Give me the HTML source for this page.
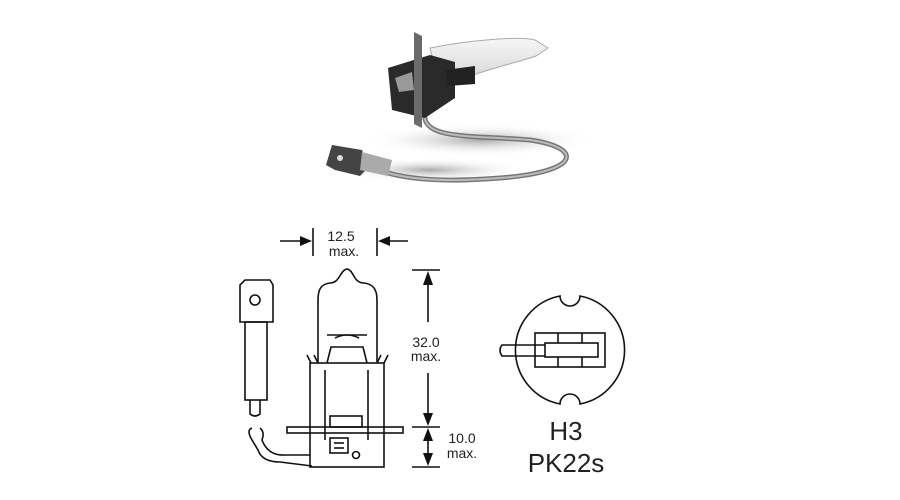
<!DOCTYPE html>
<html><head><style>
html,body{margin:0;padding:0;background:#fff;}
svg{display:block}
text{font-family:"Liberation Sans",sans-serif;fill:#222}
</style></head><body>
<svg width="900" height="500" viewBox="0 0 900 500">
<defs>
<radialGradient id="sh" cx="0.5" cy="0.5" r="0.5"><stop offset="0" stop-color="#aaa"/><stop offset="1" stop-color="#fff" stop-opacity="0"/></radialGradient>
<linearGradient id="gl" x1="0" y1="0" x2="0" y2="1"><stop offset="0" stop-color="#f6f6f6"/><stop offset="0.6" stop-color="#e0e0e0"/><stop offset="1" stop-color="#b8b8b8"/></linearGradient>
</defs>
<!-- photo -->
<ellipse cx="480" cy="140" rx="115" ry="16" fill="url(#sh)"/>
<ellipse cx="430" cy="170" rx="95" ry="12" fill="url(#sh)"/>
<path d="M425 112 C 420 140, 470 135, 530 140 C 585 148, 580 172, 500 178 C 450 182, 410 180, 385 172" fill="none" stroke="#777" stroke-width="5"/>
<path d="M425 112 C 420 140, 470 135, 530 140 C 585 148, 580 172, 500 178 C 450 182, 410 180, 385 172" fill="none" stroke="#bbb" stroke-width="2"/>
<path d="M332 145 L362 150 L368 168 L360 176 L335 170 L326 165 Z" fill="#444"/>
<circle cx="340" cy="158" r="3" fill="#ddd"/>
<path d="M362 152 L392 160 L388 176 L360 170 Z" fill="#aaa"/>
<path d="M430 48 C470 40, 520 36, 535 40 L548 48 L536 56 C520 62, 480 70, 440 88 Z" fill="url(#gl)" stroke="#aaa"/>
<path d="M388 68 L430 55 L455 62 L455 98 L425 118 L392 110 Z" fill="#2a2a2a"/>
<path d="M395 78 L412 72 L414 90 L399 92 Z" fill="#999"/>
<path d="M414 32 L422 36 L422 128 L414 124 Z" fill="#6a6a6a"/>
<path d="M445 70 L475 66 L475 84 L448 86 Z" fill="#222"/>
<!-- dimension 12.5 -->
<g stroke="#111" stroke-width="1.6" fill="none">
<line x1="313" y1="228" x2="313" y2="256"/><line x1="377" y1="228" x2="377" y2="256"/>
<line x1="280" y1="241" x2="305" y2="241"/><line x1="385" y1="241" x2="408" y2="241"/>
</g>
<polygon points="312,241 300,236 300,246" fill="#111"/>
<polygon points="378,241 390,236 390,246" fill="#111"/>
<text x="341" y="241" font-size="14" text-anchor="middle">12.5</text>
<text x="344" y="256" font-size="14" text-anchor="middle">max.</text>
<!-- bulb -->
<g stroke="#111" stroke-width="1.6" fill="none">
<path d="M318 362 L318 300 C318 288 322 284 330 283 C340 283 340 270 347 269 C354 270 353 283 364 283 C372 284 377 288 377 300 L377 362"/>
<rect x="310" y="363" width="74" height="104"/>
<path d="M307 355 L311 363 M314 355 L318 363 M388 355 L384 363 M381 355 L377 363"/>
<path d="M327 363 L331 347 L363 347 L367 363"/>
<line x1="327" y1="335" x2="367" y2="335"/>
<path d="M335 338 Q347 332 359 338"/>
<rect x="287" y="427" width="116" height="6"/>
<line x1="325" y1="370" x2="325" y2="440"/><line x1="368" y1="370" x2="368" y2="440"/>
<rect x="330" y="416" width="32" height="11"/>
<rect x="330" y="438" width="18" height="15"/>
<line x1="334" y1="443" x2="344" y2="443"/><line x1="334" y1="448" x2="344" y2="448"/>
<circle cx="356" cy="455" r="3.5"/>
<!-- connector -->
<path d="M240 322 L240 285 L245 280 L270 280 L273 285 L273 322 Z"/>
<circle cx="255" cy="300" r="5"/>
<rect x="245" y="322" width="22" height="78"/>
<path d="M250 400 L250 414 Q255 418 260 414 L260 400"/>
<path d="M252 428 Q246 430 252 440 L258 450 Q262 462 280 462 L312 466 M260 428 Q265 432 262 440 Q268 456 285 455 L310 455"/>
<!-- 32.0 -->
<line x1="412" y1="270" x2="440" y2="270"/><line x1="428" y1="280" x2="428" y2="322"/>
<line x1="428" y1="373" x2="428" y2="420"/>
<line x1="412" y1="427" x2="440" y2="427"/>
<line x1="428" y1="437" x2="428" y2="458"/>
<line x1="412" y1="467" x2="440" y2="467"/>
</g>
<polygon points="428,271 423,285 433,285" fill="#111"/>
<polygon points="428,426 423,413 433,413" fill="#111"/>
<polygon points="428,428 423,441 433,441" fill="#111"/>
<polygon points="428,466 423,453 433,453" fill="#111"/>
<text x="426" y="347" font-size="14" text-anchor="middle">32.0</text>
<text x="426" y="361" font-size="14" text-anchor="middle">max.</text>
<text x="462" y="443" font-size="14" text-anchor="middle">10.0</text>
<text x="462" y="458" font-size="14" text-anchor="middle">max.</text>
<!-- socket -->
<g stroke="#111" stroke-width="1.6" fill="none">
<path d="M580 296 A55 55 0 0 1 580 404 A10 10 0 0 0 560 404 A55 55 0 0 1 560 296 A10 10 0 0 0 580 296 Z"/>
<rect x="535" y="333" width="70" height="34"/>
<rect x="545" y="343" width="53" height="14"/>
<line x1="558" y1="333" x2="558" y2="343"/><line x1="582" y1="333" x2="582" y2="343"/>
<line x1="558" y1="357" x2="558" y2="367"/><line x1="582" y1="357" x2="582" y2="367"/>
<path d="M545 345 L502 345 Q498 350 502 356 L545 356"/>
</g>
<text x="566" y="440" font-size="26" text-anchor="middle">H3</text>
<text x="566" y="472" font-size="26" text-anchor="middle">PK22s</text>
</svg>
</body></html>
